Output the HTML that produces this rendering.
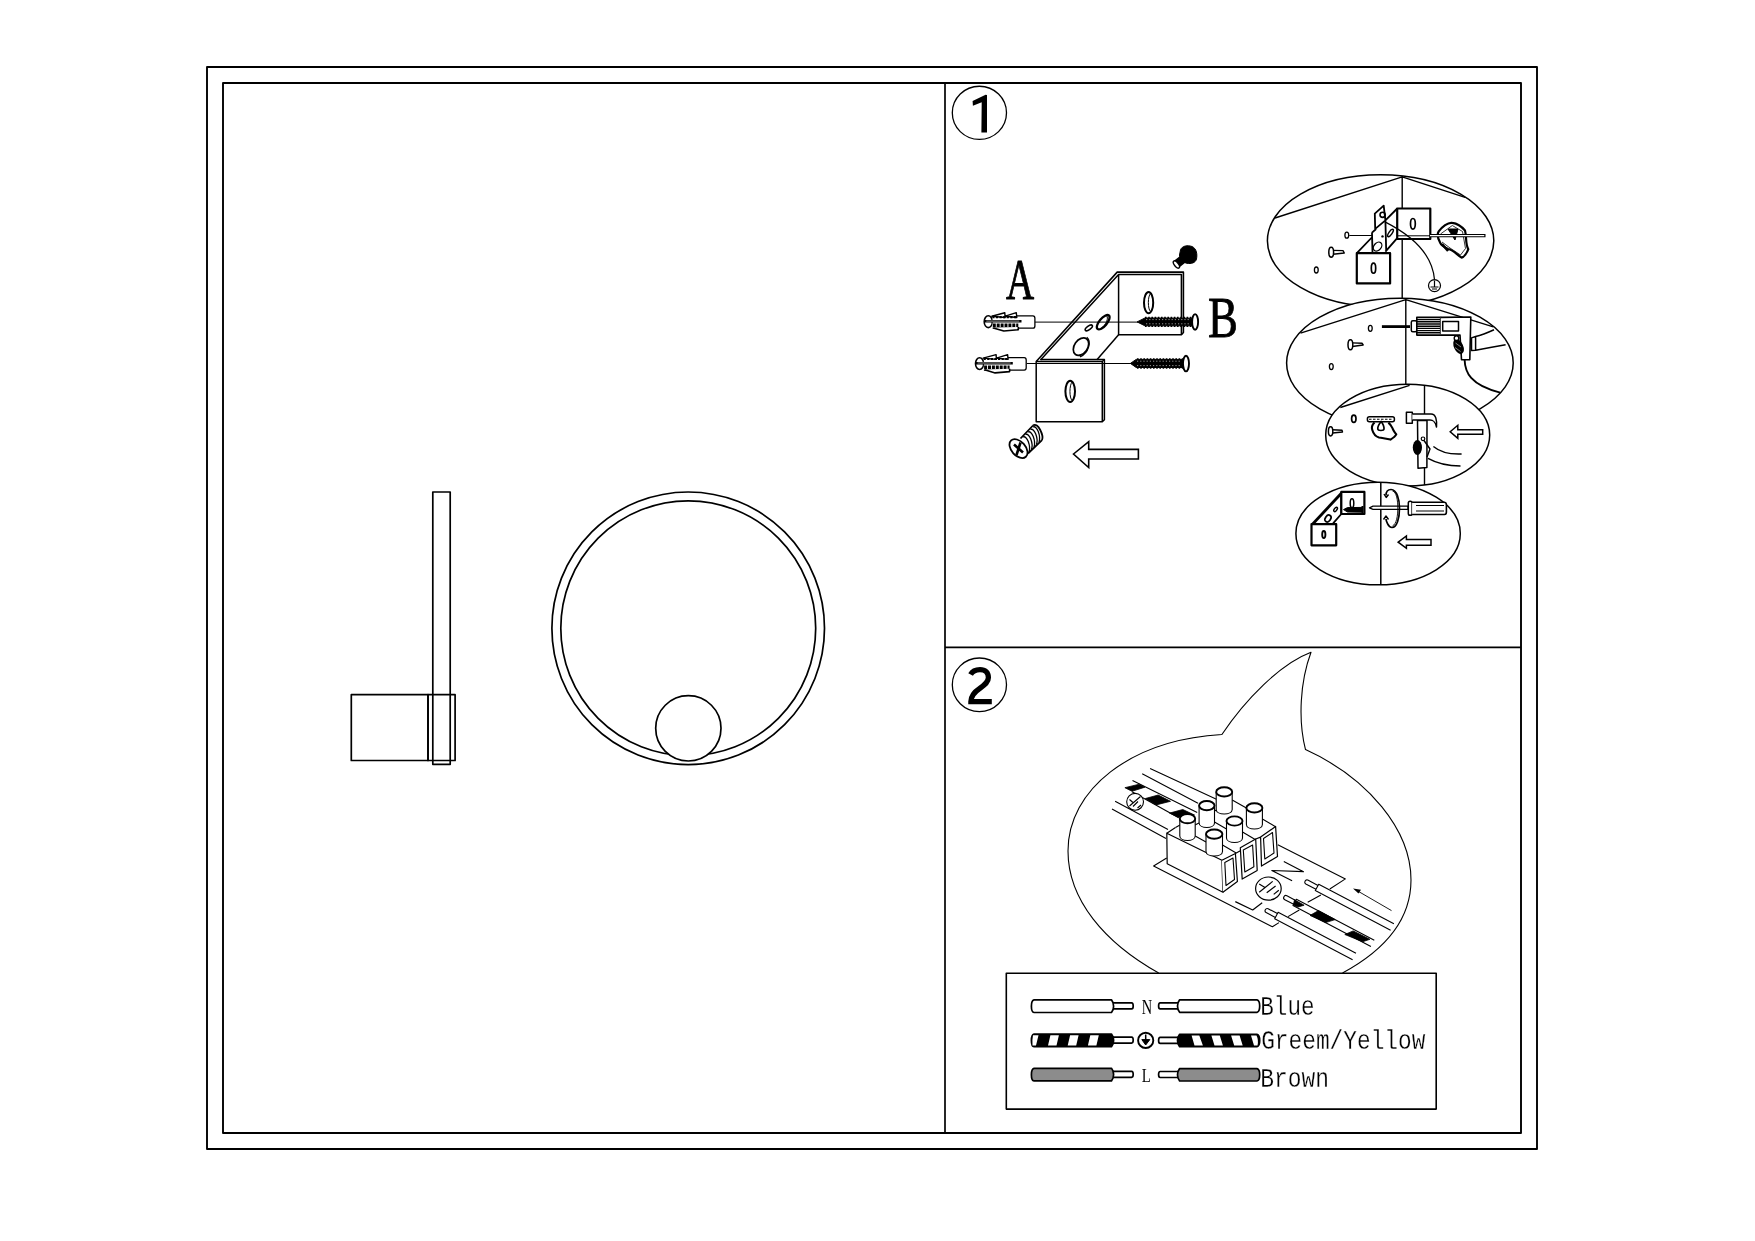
<!DOCTYPE html>
<html><head><meta charset="utf-8"><title>Installation</title>
<style>
html,body{margin:0;padding:0;background:#fff;width:1755px;height:1241px;overflow:hidden;font-family:"Liberation Sans",sans-serif;}
svg{display:block;filter:grayscale(100%);}
</style></head><body>
<svg width="1755" height="1241" viewBox="0 0 1755 1241" fill="none" stroke="#000" stroke-linejoin="round">
<rect x="0" y="0" width="1755" height="1241" fill="#fff" stroke="none"/>
<!-- FRAMES -->
<g id="frames" stroke-width="1.9">
<rect x="207" y="67" width="1330" height="1082"/>
<rect x="223" y="83" width="1298" height="1050"/>
<line x1="945" y1="83" x2="945" y2="1133" stroke-width="1.7"/>
<line x1="945" y1="647.3" x2="1521" y2="647.3" stroke-width="1.7"/>
</g>
<!-- LEFT PANEL -->
<g id="lamp" stroke-width="1.7">
<rect x="432.8" y="492" width="17.4" height="272.3"/>
<rect x="351.3" y="694.7" width="76.7" height="65.8"/>
<rect x="428" y="694.7" width="27.1" height="65.8"/>
<circle cx="688.2" cy="628.3" r="136.3"/>
<circle cx="688.25" cy="628.25" r="127.45"/>
<circle cx="688.35" cy="728.35" r="32.65" fill="#fff"/>
</g>
<!-- STEP NUMBERS -->
<g id="steps" stroke-width="1.3">
<ellipse cx="979.4" cy="112.85" rx="27.1" ry="26.6"/>
<path d="M972.6,101.05 L985.6,94.7 L987,95.1 L987,132.6 L981.4,132.6 L981.7,102.2 L972.9,105.85 Z" fill="#000" stroke="none"/>
<ellipse cx="979.4" cy="684.8" rx="27.1" ry="26.8"/>
<path d="M970.6,674.5 C972.5,671 976,669.6 980,669.6 C985.2,669.6 988.4,672.6 988.4,677.6 C988.4,682.2 985,684.8 980,688.2 C974,692.2 970.9,696 970.9,701.6 L991.8,701.6" stroke-width="5.3" stroke-linejoin="miter"/>
</g>
<!--BRACKET-->
<g id="bracket" stroke-width="1.6">
<path d="M1036.2,361.5 L1117.2,272.1 L1183.4,272.1 L1183.4,332.5 L1181.4,334.7"/>
<path d="M1040.5,359.9 L1118.6,274.6 L1181.4,274.6 L1181.4,334.7 L1118.6,334.7 L1118.6,274.6" stroke-width="1.5"/>
<path d="M1118.6,334.7 L1096.9,359.8" stroke-width="1.5"/>
<path d="M1040.5,359.4 L1104.4,359.4 L1104.4,419.8 L1102.3,421.8" stroke-width="1.5"/>
<rect x="1036.2" y="361.5" width="66.1" height="60.3" stroke-width="1.5"/>
<line x1="1102.3" y1="361.5" x2="1104.4" y2="359.4" stroke-width="1.2"/>
<!-- holes -->
<ellipse cx="1148.6" cy="302.7" rx="4.6" ry="10.6" stroke-width="2"/>
<path d="M1150.6,293.5 C1147.6,296 1147.6,309 1150.6,311.8" stroke-width="1"/>
<ellipse cx="1070.2" cy="391.3" rx="4.8" ry="10.6" stroke-width="2"/>
<path d="M1072.2,382 C1069.2,385 1069.2,398 1072.2,400.6" stroke-width="1"/>
<ellipse cx="1081" cy="346.6" rx="6.6" ry="9.6" transform="rotate(35 1081 346.6)" stroke-width="1.7"/>
<path d="M1086.8,337.2 C1091.5,341 1089,353 1080,356.8" stroke-width="1.3"/>
<ellipse cx="1088.8" cy="327.9" rx="1.8" ry="4.2" transform="rotate(55 1088.8 327.9)" stroke-width="1.6"/>
<ellipse cx="1103.2" cy="322.2" rx="3.8" ry="8.8" transform="rotate(40 1103.2 322.2)" stroke-width="2.3"/>
<path d="M1106.5,315.5 C1109,318 1106,325 1101,328.5" stroke-width="1"/>
<!-- guide lines -->
<line x1="1034.6" y1="322.1" x2="1138" y2="322.1" stroke-width="1"/>
<line x1="1026.8" y1="363.5" x2="1131" y2="363.5" stroke-width="1"/>
<!-- screws -->
<path d="M1137.1,321.9 L1144.9,318 L1192.7,318.2 L1192.7,325.8 L1144.9,325.8 Z" fill="#000" stroke-width="1"/>
<path d="M1146,319.6 L1190,319.6 M1146,323.8 L1190,323.8" stroke="#fff" stroke-width="0.6" stroke-dasharray="1.2 2"/>
<path d="M1145,317.6 L1192,317.6 M1145,326.2 L1192,326.2" stroke-width="1.6" stroke-dasharray="1.6 1.6"/>
<ellipse cx="1195.1" cy="321.9" rx="3" ry="7.8" fill="#fff" stroke-width="1.9"/>
<path d="M1130.4,363.4 L1136.2,359.4 L1183.6,359.4 L1183.6,367.5 L1136.2,367.5 Z" fill="#000" stroke-width="1"/>
<path d="M1137,361.2 L1181,361.2 M1137,365.6 L1181,365.6" stroke="#fff" stroke-width="0.6" stroke-dasharray="1.2 2"/>
<path d="M1137,359 L1183,359 M1137,367.9 L1183,367.9" stroke-width="1.6" stroke-dasharray="1.6 1.6"/>
<ellipse cx="1186" cy="363.6" rx="3" ry="7.8" fill="#fff" stroke-width="1.9"/>
<!-- black screw -->
<path d="M1180.5,250 C1182,245.5 1188,245 1192,246.5 C1196.5,248.5 1197.5,254 1196.5,259 C1195.5,263 1191,264 1187,263.3 C1183,262.5 1179.5,259 1179.5,255 Z" fill="#000" stroke="#000" stroke-width="1"/>
<rect x="-2" y="-4.3" width="11" height="8.6" rx="1" transform="translate(1183.5,258.8) rotate(142)" fill="#000" stroke="none"/>
<ellipse cx="1176.4" cy="264.5" rx="2" ry="4.3" transform="rotate(-38 1176.4 264.5)" fill="#fff" stroke="#000" stroke-width="1.4"/>
<!-- countersunk screw -->
<path d="M1020.5,438.5 L1033,425.5 M1028,453.5 L1042,440.2" stroke-width="1.8"/>
<path d="M1033,425.5 C1038,421.5 1044,436 1042,440.2" stroke-width="1.8"/>
<path d="M1023,437 C1027,435 1031,446 1029,452 M1025.5,434.5 C1029.5,432.5 1033.5,443.5 1031.5,449.5 M1028,432 C1032,430 1036,441 1034,447 M1030.5,429.5 C1034.5,427.5 1038.5,438.5 1036.5,444.5 M1033,427 C1037,425 1041,436 1039,442" stroke-width="1.3"/>
<ellipse cx="1018.5" cy="448.6" rx="11" ry="7" transform="rotate(48 1018.5 448.6)" fill="#fff" stroke-width="1.8"/>
<path d="M1014,444.5 L1023,452.5 M1020.5,442.5 L1016.5,455" stroke-width="2.6"/>
<!-- arrow -->
<path d="M1073.5,454 L1088.7,441.6 L1088.7,449.4 L1138.4,449.4 L1138.4,459 L1088.7,459 L1088.7,467.5 Z" stroke-width="1.6" stroke-linejoin="miter"/>
<!-- labels -->
<text x="0" y="0" transform="translate(1006,298.8) scale(0.685,1)" font-family="Liberation Serif" font-size="57" fill="#000" stroke="#000" stroke-width="0.9">A</text>
<text x="0" y="0" transform="translate(1208,337.2) scale(0.8,1)" font-family="Liberation Serif" font-size="56" fill="#000" stroke="#000" stroke-width="0.8">B</text>
</g>
<!--ANCHORS-->
<defs>
<g id="anchor">
<ellipse cx="0" cy="0" rx="4.1" ry="5.9" fill="#fff" stroke-width="1.6"/>
<path d="M4.3,-5.9 L44.6,-5.9 Q46.6,-5.9 46.6,-3.5 L46.6,4.2 Q46.6,6.5 44.6,6.5 L4.3,6.5" fill="#fff" stroke-width="1.3"/>
<path d="M-3.8,-0.4 L33.2,-0.4" stroke-width="2.6"/>
<path d="M-2,-0.6 L31,-0.6" stroke="#fff" stroke-width="0.6"/>
<path d="M3.5,-5.5 L16.5,-9 L16.8,-4.2 Z M17,-5.5 L28,-9 L28.5,-4.2 Z" fill="#fff" stroke-width="1.4"/>
<path d="M4,-4.6 L29,-4.6" stroke-width="2.2" stroke-dasharray="2.2 1.4"/>
<path d="M4.5,3.6 L30,3.6" stroke-width="3.4" stroke-dasharray="3 0.9"/>
<path d="M5,6.2 L15.5,9.3 L30,8 L30,5.2" fill="#fff" stroke-width="1.6"/>
</g>
</defs>
<use href="#anchor" x="988.3" y="321.7"/>
<use href="#anchor" x="979.6" y="363.6"/>

<!--ELLIPSES-->
<g id="ellipses" stroke-width="1.5">
<!-- E1 -->
<ellipse cx="1380.6" cy="240.8" rx="113.2" ry="66" fill="#fff"/>
<path d="M1402.2,176 L1402.2,300 M1275,218 L1402.2,176.8 L1465.1,197.4" stroke-width="1.4"/>
<ellipse cx="1346.8" cy="235.2" rx="1.9" ry="3" stroke-width="1.3"/>
<ellipse cx="1316.3" cy="270" rx="1.9" ry="3" stroke-width="1.3"/>
<path d="M1349.3,235.5 L1372,235.5 M1397.5,235.8 L1430,235.8" stroke-width="1"/>
<ellipse cx="1331.2" cy="252.2" rx="2.4" ry="5" stroke-width="1.5"/>
<path d="M1333,250.4 L1343,250.6 L1344.3,253 L1333,254.2" stroke-width="1.4"/>
<path d="M1356.8,253.2 L1371.8,237.5 M1372,232.6 L1372.5,252.6 M1374.8,213.6 L1383.7,205.6 L1385.4,220.4 L1375.2,228.9 Z M1372,232.6 L1376.1,229 M1385.4,220.4 L1397.2,208.5 M1385.4,251.7 L1397.2,238.2 M1385.4,220.4 L1386.2,251" stroke-width="1.8"/>
<ellipse cx="1377.6" cy="246.6" rx="3.6" ry="5" transform="rotate(40 1377.6 246.6)" stroke-width="1.3"/>
<ellipse cx="1390.5" cy="233" rx="1.6" ry="4.3" transform="rotate(35 1390.5 233)" stroke-width="1.5"/>
<circle cx="1382.5" cy="236.4" r="1.2" fill="#000" stroke="none"/>
<circle cx="1382.6" cy="214.8" r="2.6" stroke-width="1.6"/>
<rect x="1356.8" y="253.2" width="33.3" height="30.2" fill="#fff" stroke-width="2.2"/>
<ellipse cx="1373.5" cy="268.2" rx="2.2" ry="5" stroke-width="1.7"/>
<rect x="1397.2" y="208.5" width="33.1" height="30.5" fill="#fff" stroke-width="2.2"/>
<ellipse cx="1412.9" cy="223.8" rx="2.4" ry="5.3" stroke-width="1.7"/>
<path d="M1397.5,235.8 L1430,235.8" stroke-width="1"/>
<path d="M1385.4,222.1 C1405,232 1432,250 1434.5,279.6" stroke-width="1.2"/>
<circle cx="1434.5" cy="285.6" r="6" fill="#fff" stroke-width="1.2"/>
<path d="M1434.5,280.5 L1434.5,287 M1430.5,287 L1438.5,287 M1432,289 L1437,289" stroke-width="1.2"/>
<path d="M1438.7,231.4 C1442,227 1448,222 1452.3,222.9 C1457,223.5 1462,227 1465,230.5 C1467,238 1465,243 1468.3,249.2 C1467,253 1464,257 1461.6,257.6 C1457,255 1454,250 1448,249 C1444,247 1441,245 1440.4,243.2 C1438,239 1437,234 1438.7,231.4 Z" fill="#fff" stroke-width="2.2"/>
<path d="M1440.5,234 L1452.3,225.5 L1462.5,231.5 L1465.5,248.5 L1460.5,255 L1450,248 L1442,242" stroke-width="0.8"/>
<path d="M1448,229 L1458,229 L1455,240 Z" fill="#000" stroke-width="1"/>
<path d="M1442,244 L1448,251" stroke-width="2.5"/>
<path d="M1430,235.6 L1485.5,235.6" stroke-width="3.4"/>
<path d="M1430,235.6 L1484.3,235.6" stroke="#fff" stroke-width="1.3"/>
<!-- E2 -->
<ellipse cx="1399.9" cy="363" rx="113.3" ry="64.8" fill="#fff"/>
<path d="M1405.8,299.5 L1405.8,390 M1300.5,333.1 L1405.8,299.6 L1493.3,326.9" stroke-width="1.4"/>
<ellipse cx="1370.3" cy="328.3" rx="1.9" ry="3" stroke-width="1.3"/>
<ellipse cx="1331.3" cy="366.6" rx="1.9" ry="3" stroke-width="1.3"/>
<ellipse cx="1350.4" cy="344.7" rx="2.4" ry="5" stroke-width="1.5"/>
<path d="M1352.2,342.9 L1362,343.2 L1363.2,345 L1352.2,346.5" stroke-width="1.4"/>
<path d="M1381.9,326.6 L1410,326.6" stroke-width="2.8"/>
<rect x="1411.3" y="320.8" width="5.5" height="10.9" rx="1.5" fill="#fff" stroke-width="1.5"/>
<rect x="1416.8" y="317.4" width="23.9" height="17.7" fill="#fff" stroke-width="1.6"/>
<path d="M1417,319.6 L1440.5,319.6 M1417,321.8 L1440.5,321.8 M1417,324 L1440.5,324 M1417,326.2 L1440.5,326.2 M1417,328.4 L1440.5,328.4 M1417,330.6 L1440.5,330.6 M1417,332.8 L1440.5,332.8" stroke-width="1.4"/>
<path d="M1440.7,317.4 L1470.8,317 L1469.8,359.7 L1461.5,359.7 L1460,335.1 L1440.7,335.1" fill="#fff" stroke-width="1.6"/>
<rect x="1442.7" y="321.5" width="15.8" height="9.5" stroke-width="1.5"/>
<ellipse cx="1458.6" cy="346.6" rx="4.6" ry="8" transform="rotate(-25 1458.6 346.6)" fill="#000" stroke="none"/>
<circle cx="1456.5" cy="338.2" r="2.3" fill="#fff" stroke-width="1.4"/>
<path d="M1455.5,343 L1461,347 M1455,347.5 L1460.5,351.5" stroke="#fff" stroke-width="0.5"/>
<path d="M1464.6,359.7 C1465,372 1470,385 1500.2,392.6" stroke-width="1.9"/>
<path d="M1471.5,337.9 L1475.6,336.5 L1475.6,350.2 L1471.5,350.5 Z M1475.6,336.5 C1482,335 1489,332 1494,329.7 M1475.6,350.2 C1485,348.5 1496,346.5 1505.6,344.7" stroke-width="1.5"/>
<!-- E3 -->
<ellipse cx="1407.7" cy="435.1" rx="82" ry="50.9" fill="#fff"/>
<path d="M1424.5,385.3 L1424.5,485 M1340.3,407.5 L1409.6,385.3" stroke-width="1.4"/>
<ellipse cx="1353.8" cy="418.8" rx="2.2" ry="3.6" stroke-width="1.7"/>
<ellipse cx="1330.6" cy="431.3" rx="2.2" ry="4.6" stroke-width="1.5"/>
<path d="M1332.5,429.8 L1342,430.2 L1342.5,432 L1332.5,433" stroke-width="1.4"/>
<rect x="1367.4" y="416.8" width="27" height="5" rx="2" fill="#fff" stroke-width="1.5"/>
<path d="M1369,419.3 L1393,419.3" stroke-width="1.1" stroke-dasharray="2.5 1.5"/>
<path d="M1374.5,422.5 C1372,425 1371.5,428 1372.3,430 C1373.5,434 1375.5,436.5 1379,437.5 C1383,438.3 1387,438.5 1390.5,439.6 C1393,438 1395.5,436 1396.3,434.4 C1394.5,432 1393,430 1392.6,428.4 C1391.5,426 1390,424 1388.4,422.6" stroke-width="2.1"/>
<path d="M1381.2,421.5 C1379,424 1377.6,427 1377.8,429 C1378,431 1383.8,431 1384,429 C1384.2,427 1383,424 1381.2,421.5 Z" stroke-width="1.7"/>
<path d="M1417.5,420.5 L1427,420.5 L1426.9,467.6 L1418,468.2 Z" fill="#fff" stroke-width="1.5"/>
<rect x="1406.4" y="412.3" width="5.9" height="10.9" fill="#fff" stroke-width="1.5"/>
<path d="M1412.3,414 L1431,414 C1436,414 1437,420 1436.5,427 C1435,421 1433,419.5 1429,420 L1412.3,420" fill="#fff" stroke-width="1.5"/>
<ellipse cx="1417.4" cy="447.5" rx="4.6" ry="7.6" fill="#000" stroke="none"/>
<circle cx="1423" cy="438.8" r="1.8" stroke-width="1.2"/>
<path d="M1424,440.5 L1430,449 L1427,457 M1433.4,446.5 C1440,452 1450,454.5 1461.6,454 M1428,458.4 C1438,464 1450,466 1460.5,466" stroke-width="1.4"/>
<path d="M1450.2,431.8 L1457.8,425.3 L1457.8,429.7 L1482.7,429.7 L1482.7,434.3 L1457.8,434.3 L1457.8,438.3 Z" stroke-width="1.5" stroke-linejoin="miter"/>
<!-- E4 -->
<ellipse cx="1378.1" cy="533.5" rx="82.2" ry="51.3" fill="#fff"/>
<path d="M1380.8,482.2 L1380.8,584.8" stroke-width="1.5"/>
<path d="M1312.5,524.2 L1341.8,492.8" stroke-width="2.8"/>
<path d="M1341.3,514 L1333.1,523.4 M1341.3,495 L1341.3,514" stroke-width="1.8"/>
<rect x="1341.3" y="491.9" width="23.1" height="22.1" fill="#fff" stroke-width="2.2"/>
<rect x="1311.5" y="524.2" width="24.7" height="21.1" fill="#fff" stroke-width="2.2"/>
<ellipse cx="1328" cy="518.5" rx="2.6" ry="3.7" transform="rotate(35 1328 518.5)" stroke-width="1.7"/>
<ellipse cx="1335.6" cy="509.4" rx="1.3" ry="2.5" transform="rotate(35 1335.6 509.4)" stroke-width="1.5"/>
<ellipse cx="1352" cy="503.2" rx="1.8" ry="4.4" stroke-width="1.5"/>
<ellipse cx="1323.8" cy="534.5" rx="1.6" ry="3.5" stroke-width="1.9"/>
<path d="M1343.5,509.6 L1347.5,507.6 L1362.5,507.4 L1362.5,512.2 L1347.5,512 Z" fill="#000" stroke-width="1"/>
<path d="M1362.5,506 L1362.5,513.5" stroke-width="2"/>
<path d="M1369.5,507.8 L1373,506.2 L1408,506.2 L1408,509.3 L1373,509.3 Z" fill="#fff" stroke-width="1.3"/>
<rect x="1408.3" y="501.2" width="3.8" height="14" rx="1.8" fill="#fff" stroke-width="1.5"/>
<path d="M1412.1,502.2 L1444.5,502.2 Q1446.4,502.5 1446.4,505 L1446.4,512 Q1446.4,514.5 1444.5,514.5 L1412.1,514.5" fill="#fff" stroke-width="1.6"/>
<path d="M1416,505.5 L1444,505.5 M1416,511 L1444,511" stroke-width="1"/>
<path d="M1391,489.5 C1397,489.5 1399.5,500 1399.5,508 C1399.5,518 1397,527.5 1392,527.5 C1388,527.5 1386,520 1386,519" stroke-width="1.7"/>
<path d="M1392.5,491 C1396.5,492 1397.8,500 1397.8,508 C1397.8,516 1396.5,524 1392.5,526" stroke-width="0.9"/>
<path d="M1391,489.5 C1387.5,489.5 1386,492 1386,495.5" stroke-width="1.6"/>
<path d="M1384,494 L1386.2,497.5 L1388.5,494.5" stroke-width="1.4"/>
<path d="M1383.5,519.5 L1386,516 L1388.5,519.5" stroke-width="1.4"/>
<path d="M1398.2,542.2 L1406.4,536 L1406.4,539.6 L1431,539.6 L1431,545.3 L1406.4,545.3 L1406.4,548.3 Z" stroke-width="1.5" stroke-linejoin="miter"/>
</g>

<!--BUBBLE-->
<g id="bubble" stroke-width="1.1">
<path d="M1158.7,973 C1105,943 1068,900 1068,851 C1068,790 1130,740 1221.9,734.5 C1245,700 1280,664 1311,652.3 C1300,682 1298,720 1305.5,749.6 C1368,778 1411,830 1411,880 C1411,920 1385,950 1342.5,973"/>
<!-- upper-left cables -->
<path d="M1150.1,768.5 L1217,799.4 M1142.2,773.7 L1198,803.3 M1132.5,780.5 L1197.2,812.6 M1115.1,801.3 L1168,829.5 M1112,809 L1166,838.6"/>
<path d="M1124.9,787.7 L1139.2,784.2 L1144.9,787.2 L1132,791.3 Z M1145.4,798.5 L1158.2,795 L1170.5,801.3 L1156.2,804.9 Z M1169.5,813.1 L1182.8,809.5 L1194.6,815.1 L1178.2,817.2 Z" fill="#000" stroke-width="0.8"/>
<path d="M1132,791.8 L1178.7,817.7"/>
<circle cx="1135.1" cy="801.8" r="8.4" fill="#fff"/>
<path d="M1129.5,806 L1140.5,796.5 M1129.5,799.5 L1133.5,803 M1133,806.5 L1138,801.5 M1137.5,808 L1141,805" stroke-width="1.1"/>
<!-- base plate -->
<path d="M1166.7,858 L1153.6,866 L1272.4,926.8 L1279,922.6 M1277.8,844.8 L1345.4,878.9 L1329.8,889 M1307.7,902.2 L1320.9,895 M1288,916.6 L1299.3,910"/>
<!-- block -->
<path d="M1166.8,833.2 L1167.2,863.7 L1222.9,892.2 L1221.9,860.3 Z" fill="#fff" stroke-width="1.2"/>
<path d="M1166.8,833.2 L1175.5,827.5 M1221.9,860.3 L1235.4,853.5 L1237.4,881.5 L1222.9,892.2" fill="#fff" stroke-width="1.2"/>
<path d="M1224.8,862.5 L1233,858 L1234.5,879.5 L1226,885.5 Z" stroke-width="1.1"/>
<path d="M1240.3,847.7 L1255.7,839 L1257.2,870.4 L1242.2,879.1 Z M1235.4,853.5 L1240.3,850.8" fill="#fff" stroke-width="1.2"/>
<path d="M1243.3,850 L1252.6,845 L1253.9,866.8 L1244.8,872 Z" stroke-width="1.1"/>
<path d="M1260.6,837.1 L1275.6,826.4 L1277.5,856.4 L1261.5,866.1 Z M1255.7,839 L1260.6,837.1" fill="#fff" stroke-width="1.2"/>
<path d="M1263.5,838.5 L1272.5,832.5 L1274,853 L1264.8,859 Z" stroke-width="1.1"/>
<path d="M1175.5,827.5 L1180,825 M1195,825 L1199,823 M1214.5,811 L1216.5,810 M1232.2,800 L1246.4,808 M1236.2,852.9 L1222.5,845 M1255.6,839.8 L1242.5,832 M1275.5,826.7 L1262.4,819 M1195.2,836 L1206,842 M1214.5,822 L1226.5,829" stroke-width="1.1"/>
<!-- caps -->
<g fill="#fff" stroke-width="1.1">
<path d="M1179.8,818.7 L1179.8,836 C1179.8,842 1195.2,842 1195.2,836 L1195.2,818.7"/><ellipse cx="1187.5" cy="818.7" rx="7.7" ry="4.6" stroke-width="1.9"/>
<path d="M1199.1,805.6 L1199.1,823 C1199.1,829 1214.5,829 1214.5,823 L1214.5,805.6"/><ellipse cx="1206.8" cy="805.6" rx="7.7" ry="4.6" stroke-width="1.9"/>
<path d="M1216.2,791.9 L1216.2,809.5 C1216.2,815.5 1232.2,815.5 1232.2,809.5 L1232.2,791.9"/><ellipse cx="1224.2" cy="791.9" rx="8" ry="4.6" stroke-width="1.9"/>
<path d="M1226.5,821 L1226.5,838 C1226.5,844 1242.5,844 1242.5,838 L1242.5,821"/><ellipse cx="1234.5" cy="821" rx="8" ry="4.6" stroke-width="1.9"/>
<path d="M1206,834.1 L1206,851.5 C1206,857.5 1222.5,857.5 1222.5,851.5 L1222.5,834.1"/><ellipse cx="1214.2" cy="834.1" rx="8.2" ry="4.6" stroke-width="1.9"/>
<path d="M1246.4,807.9 L1246.4,824.5 C1246.4,830.5 1262.4,830.5 1262.4,824.5 L1262.4,807.9"/><ellipse cx="1254.4" cy="807.9" rx="8" ry="4.6" stroke-width="1.9"/>
</g>
<!-- N, earth, L -->
<path d="M1283.8,861.5 L1303.5,871.7 L1271.8,870.5 L1292.1,880.7" stroke-width="1.2"/>
<ellipse cx="1268.4" cy="888.6" rx="12.8" ry="11.6" fill="#fff" stroke-width="1.2"/>
<path d="M1259.2,892.2 L1272.7,881.4 M1259.2,884 L1265,887.4 M1266.7,892.7 L1275.6,886 M1273.7,894.4 L1278.8,890.3" stroke-width="1.2"/>
<path d="M1235.3,901.6 L1252.7,910 L1262.2,902.8" stroke-width="1.2"/>
<!-- wires -->
<path d="M1318.0,885.5 L1307.8,880.1 A2.2,2.2 0 0 0 1305.8,884.0 L1316.0,889.3" fill="#fff" stroke-width="1.1"/>
<path d="M1393.9,923.8 L1318.7,884.2 L1315.3,890.6 L1390.6,930.2" stroke-width="1.1"/>
<path d="M1295.7,900.5 L1286.9,895.8 A2.2,2.2 0 0 0 1284.8,899.7 L1293.7,904.3" fill="#fff" stroke-width="1.1"/>
<path d="M1374.3,940.2 L1296.4,899.2 L1293.0,905.6 L1370.9,946.6" stroke-width="1.1"/>
<path d="M1277.4,913.6 L1268.1,908.7 A2.2,2.2 0 0 0 1266.1,912.6 L1275.4,917.4" fill="#fff" stroke-width="1.1"/>
<path d="M1356.0,953.3 L1278.1,912.3 L1274.7,918.7 L1352.6,959.7" stroke-width="1.1"/>
<path d="M1294.5,899.8 L1304.1,905.2 L1298.1,907 L1293.3,905.2 Z M1318.5,910.6 L1335.2,919.6 L1325.6,922.6 L1310,915.4 Z M1353.2,930.9 L1369.9,939.3 L1362.7,941.7 L1344.8,934.5 Z" fill="#000" stroke-width="0.8"/>
<path d="M1391.5,910.6 L1356,890" stroke-width="0.9"/>
<path d="M1353,888.5 L1361,889.8 L1358.5,893.5 Z" fill="#000" stroke="none"/>
</g>

<!--LEGEND-->
<g id="legend">
<rect x="1006.3" y="973.3" width="429.9" height="135.8" fill="#fff" stroke-width="1.6"/>
<g stroke-width="1.7">
<!-- row1 left -->
<path d="M1111.6,1002.9 L1131.6,1002.9 Q1133.2,1002.9 1133.2,1005.9 Q1133.2,1008.9 1131.6,1008.9 L1111.6,1008.9" fill="#fff"/>
<path d="M1111.5,999.9 L1034,999.9 Q1031.4,1000.5 1031.4,1006.3 Q1031.4,1012.2 1034,1012.5 L1111.5,1012.5 Q1113.6,1010 1113.6,1006.2 Q1113.6,1002.4 1111.5,999.9 Z" fill="#fff"/>
<!-- row2 left -->
<path d="M1111.6,1037.1 L1131.6,1037.1 Q1133.2,1037.1 1133.2,1040.1 Q1133.2,1043.1 1131.6,1043.1 L1111.6,1043.1" fill="#fff"/>
<path d="M1111.5,1034.1 L1034,1034.1 Q1031.4,1034.7 1031.4,1040.5 Q1031.4,1046.4 1034,1046.7 L1111.5,1046.7 Q1113.6,1044.2 1113.6,1040.4 Q1113.6,1036.6 1111.5,1034.1 Z" fill="#000"/>
<path d="M1033,1035.2 L1038.5,1035.2 L1036,1045.6 L1032.5,1045.6 Q1032,1040 1033,1035.2 Z M1050.4,1035.2 L1058.9,1035.2 L1056.5,1045.6 L1048,1045.6 Z M1070.1,1035.2 L1078.6,1035.2 L1076.2,1045.6 L1067.7,1045.6 Z M1090.3,1035.2 L1098.8,1035.2 L1096.4,1045.6 L1087.9,1045.6 Z" fill="#fff" stroke="none"/>
<!-- row3 left -->
<path d="M1111.6,1071.3 L1131.6,1071.3 Q1133.2,1071.3 1133.2,1074.3 Q1133.2,1077.3 1131.6,1077.3 L1111.6,1077.3" fill="#fff"/>
<path d="M1111.5,1068.3 L1034,1068.3 Q1031.4,1068.9 1031.4,1074.7 Q1031.4,1080.6 1034,1080.9 L1111.5,1080.9 Q1113.6,1078.4 1113.6,1074.6 Q1113.6,1070.8 1111.5,1068.3 Z" fill="#8c8c8c"/>
<!-- row1 right -->
<path d="M1179.2,1002.9 L1160.2,1002.9 Q1158.6,1002.9 1158.6,1005.9 Q1158.6,1008.9 1160.2,1008.9 L1179.2,1008.9" fill="#fff"/>
<path d="M1179.6,999.9 L1257,999.9 Q1259.7,1000.5 1259.7,1006.1 Q1259.7,1011.8 1257,1012.3 L1179.6,1012.3 Q1177.5,1009.8 1177.5,1006.1 Q1177.5,1002.4 1179.6,999.9 Z" fill="#fff"/>
<!-- row2 right -->
<path d="M1179.2,1037.4 L1160.2,1037.4 Q1158.6,1037.4 1158.6,1040.4 Q1158.6,1043.4 1160.2,1043.4 L1179.2,1043.4" fill="#fff"/>
<path d="M1179.6,1034.3 L1257,1034.3 Q1259.7,1034.9 1259.7,1040.5 Q1259.7,1046.2 1257,1046.7 L1179.6,1046.7 Q1177.5,1044.2 1177.5,1040.5 Q1177.5,1036.8 1179.6,1034.3 Z" fill="#000"/>
<path d="M1191.6,1035.4 L1199.3,1035.4 L1202.9,1045.6 L1194.5,1045.6 Z M1211.4,1035.4 L1219.8,1035.4 L1222.9,1045.6 L1214.5,1045.6 Z M1231.1,1035.4 L1239.6,1035.4 L1242.7,1045.6 L1234.2,1045.6 Z M1251,1035.4 L1256.5,1035.4 Q1258.8,1040 1257.5,1045.6 L1254,1045.6 Z" fill="#fff" stroke="none"/>
<!-- row3 right -->
<path d="M1179.2,1071.5 L1160.2,1071.5 Q1158.6,1071.5 1158.6,1074.5 Q1158.6,1077.5 1160.2,1077.5 L1179.2,1077.5" fill="#fff"/>
<path d="M1179.6,1068.6 L1257,1068.6 Q1259.7,1069.2 1259.7,1074.8 Q1259.7,1080.5 1257,1081 L1179.6,1081 Q1177.5,1078.5 1177.5,1074.8 Q1177.5,1071.1 1179.6,1068.6 Z" fill="#8c8c8c"/>
<!-- ground symbol -->
<text x="1141.8" y="1013.8" font-family="Liberation Serif" font-size="20" textLength="10.4" lengthAdjust="spacingAndGlyphs" fill="#000" stroke="none">N</text>
<text x="1141.8" y="1082.3" font-family="Liberation Serif" font-size="19.5" textLength="9" lengthAdjust="spacingAndGlyphs" fill="#000" stroke="none">L</text>
<circle cx="1145.7" cy="1040.4" r="7.6" fill="#fff" stroke-width="1.9"/>
<path d="M1145.7,1034.5 L1145.7,1040" stroke-width="1.5"/>
<path d="M1141.8,1039.6 L1149.8,1039.6 L1145.7,1045 Z" fill="#000" stroke-width="1"/>
</g>
<g font-family="Liberation Mono" fill="#000" stroke="#fff" stroke-width="0.3">

<text x="1260.3" y="1014.8" font-size="27.5" textLength="54.2" lengthAdjust="spacingAndGlyphs">Blue</text>
<text x="1261.2" y="1048.9" font-size="27.5" textLength="164.2" lengthAdjust="spacingAndGlyphs">Greem/Yellow</text>
<text x="1260.3" y="1086.8" font-size="27.5" textLength="68.7" lengthAdjust="spacingAndGlyphs">Brown</text>
</g>
</g>

</svg>
</body></html>
